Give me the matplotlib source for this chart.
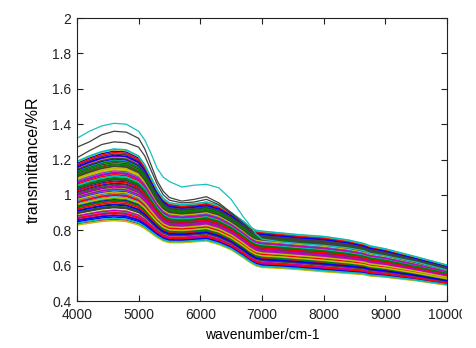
import numpy as np
import matplotlib
matplotlib.use("Agg")
import matplotlib.pyplot as plt
from matplotlib.transforms import Bbox, TransformedBbox

# sampling points of the spectra (cm-1)
wavenumber = [4000, 4200, 4400, 4600, 4800, 5000, 5100, 5200, 5300, 5400,
              5500, 5700, 5900, 6100, 6300, 6500, 6700, 6800, 6900, 7000,
              7300, 7600, 8000, 8400, 8650, 8750, 9000, 9500, 10000]

# lower and upper edge of the main bundle of spectra
low_edge = [0.83, 0.84, 0.85, 0.855, 0.85, 0.83, 0.81, 0.785, 0.76, 0.74,
            0.73, 0.73, 0.735, 0.74, 0.72, 0.69, 0.645, 0.62, 0.60, 0.59,
            0.585, 0.578, 0.566, 0.556, 0.55, 0.542, 0.535, 0.515, 0.49]
high_edge = [1.19, 1.22, 1.245, 1.26, 1.255, 1.22, 1.17, 1.10, 1.03, 0.98,
             0.955, 0.945, 0.95, 0.96, 0.94, 0.90, 0.85, 0.82, 0.80, 0.795,
             0.785, 0.775, 0.765, 0.745, 0.725, 0.712, 0.695, 0.65, 0.603]

# where each sample sits inside the bundle (0 = bottom, 1 = top)
band_position = [0.52, 0.31, 0.78, 0.12, 0.66, 0.45, 0.93, 0.05, 0.58, 0.27,
                 0.84, 0.39, 0.71, 0.18, 0.97, 0.49, 0.08, 0.62, 0.35, 0.88,
                 0.23, 0.55, 0.76, 0.02, 0.43, 0.69, 0.15, 0.81, 0.29, 0.60,
                 0.95, 0.37, 0.10, 0.73, 0.47, 0.86, 0.20, 0.64, 0.33, 0.90,
                 0.00, 0.57, 0.41, 0.79, 0.25, 0.68, 0.14, 0.99, 0.51, 0.07,
                 0.83, 0.36, 0.62, 0.44, 0.74, 0.19, 0.91, 0.28, 0.54, 0.03,
                 0.67, 0.40, 0.87, 0.22, 0.59, 0.11, 1.00, 0.48, 0.32, 0.76]

# the three spectra lying above the bundle
cyan_outlier = [1.32, 1.36, 1.39, 1.405, 1.40, 1.36, 1.31, 1.235, 1.15, 1.10,
                1.075, 1.045, 1.055, 1.06, 1.04, 0.975, 0.875, 0.83, 0.78, 0.75,
                0.735, 0.725, 0.715, 0.70, 0.685, 0.67, 0.655, 0.62, 0.575]
black_outlier_1 = [1.27, 1.30, 1.34, 1.36, 1.355, 1.32, 1.26, 1.17, 1.08, 1.02,
                   0.985, 0.965, 0.975, 0.99, 0.955, 0.90, 0.84, 0.81, 0.78, 0.765,
                   0.755, 0.745, 0.73, 0.715, 0.70, 0.685, 0.67, 0.63, 0.585]
black_outlier_2 = [1.21, 1.25, 1.285, 1.30, 1.295, 1.27, 1.22, 1.14, 1.06, 1.00,
                   0.97, 0.955, 0.96, 0.975, 0.945, 0.895, 0.835, 0.805, 0.775, 0.76,
                   0.75, 0.74, 0.725, 0.705, 0.69, 0.675, 0.66, 0.62, 0.578]

x_ticks = [4000, 5000, 6000, 7000, 8000, 9000, 10000]
y_ticks = [0.4, 0.6, 0.8, 1.0, 1.2, 1.4, 1.6, 1.8, 2.0]
y_tick_labels = ['0.4', '0.6', '0.8', '1', '1.2', '1.4', '1.6', '1.8', '2']

# old matlab colour order
matlab_colors = [(0, 0, 1), (0, 0.5, 0), (1, 0, 0), (0, 0.75, 0.75),
                 (0.75, 0, 0.75), (0.75, 0.75, 0), (0.25, 0.25, 0.25)]

plt.rcParams['font.family'] = ['Liberation Sans', 'DejaVu Sans']
plt.rcParams['font.size'] = 10

fig = plt.figure(figsize=(4.77, 3.48), dpi=100)
ax = fig.add_axes([0.1614, 0.135, 0.7757, 0.813])

low = np.array(low_edge)
high = np.array(high_edge)
for i, f in enumerate(band_position):
    ax.plot(wavenumber, low + f * (high - low), color=matlab_colors[i % 7], lw=1.1)

ax.plot(wavenumber, black_outlier_2, color=matlab_colors[6], lw=0.9)
ax.plot(wavenumber, black_outlier_1, color=matlab_colors[6], lw=0.9)
ax.plot(wavenumber, cyan_outlier, color=(0.1, 0.75, 0.75), lw=0.9)

ax.set_xlim(4000, 10000)
ax.set_ylim(0.4, 2.0)
ax.set_xticks(x_ticks)
ax.set_xticklabels([str(t) for t in x_ticks])
ax.set_yticks(y_ticks)
ax.set_yticklabels(y_tick_labels)
ax.tick_params(direction='in', top=True, right=True, length=4, width=0.8,
               colors='#222222', labelsize=10)
ax.tick_params(axis='x', pad=5)
ax.tick_params(axis='y', pad=4)
for s in ax.spines.values():
    s.set_color('#222222')
    s.set_linewidth(0.8)

ax.set_xlabel('wavenumber/cm-1', fontsize=10, labelpad=4)
ax.set_ylabel('transmittance/%R', fontsize=11.5, labelpad=8)

fig.canvas.draw()
# the last tick label is cut off in the original screenshot
last = ax.get_xticklabels()[-1]
last.set_clip_box(TransformedBbox(Bbox.from_extents(0, 0, 462 / 477, 1), fig.transFigure))
last.set_clip_on(True)

fig.savefig('out.png', dpi=100)
